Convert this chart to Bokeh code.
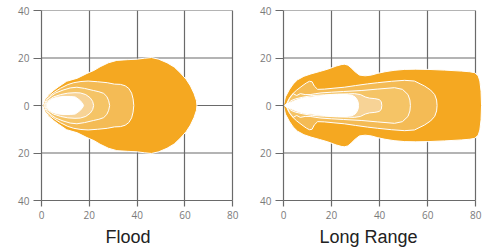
from bokeh.plotting import figure
from bokeh.layouts import row
from bokeh.models import Title, Range1d, FixedTicker
from bokeh.embed import file_html
from bokeh.resources import INLINE

# ---------------- data: beam contour profiles (distance m, half-width m) -------------
x_ticks = [0, 20, 40, 60, 80]
y_ticks = [-40, -20, 0, 20, 40]
y_tick_labels = {-40: "40", -20: "20", 0: "0", 20: "20", 40: "40"}

level_colors = ["#F5A821", "#F4BB55", "#F5C466", "#F7D396", "#FFFFFF"]

flood_L1_x = [0.5, 1.5, 3, 5, 7, 10.5, 15, 19, 22, 24.5, 28, 31.5, 36, 40, 43, 46, 49, 52.5, 55.5, 58, 60.5, 62.3, 63.8, 64.8, 65]
flood_L1_y = [0, 2.5, 4.5, 6.3, 7.8, 10.2, 11.5, 13.5, 14.8, 16.3, 18, 19, 19.3, 19.5, 19.9, 20.2, 19.5, 18, 16.2, 13.8, 11, 8.2, 5, 2, 0]
flood_L2_x = [1.0, 2, 3.5, 5.5, 8, 11, 13.5, 16.5, 19.5, 23.5, 27.5, 30.5, 33, 35, 36.5, 37.7, 38.3, 38.6]
flood_L2_y = [0, 2.4, 4.2, 5.7, 7.3, 8.8, 9.6, 10.1, 10.3, 10.0, 9.6, 9.0, 8.9, 8.3, 7.2, 5.2, 2.8, 0]
flood_L3_x = [1.3, 2.5, 4, 6, 9, 12, 14.8, 18, 21.8, 24, 26, 27.3, 28.1, 28.5]
flood_L3_y = [0, 2.4, 4.0, 5.3, 6.5, 7.4, 7.7, 7.2, 6.3, 5.8, 5.1, 3.8, 2.0, 0]
flood_L4_x = [1.6, 3, 5, 8, 11, 14, 16.2, 18.5, 20.4, 21.4, 21.8]
flood_L4_y = [0, 2.2, 3.6, 4.6, 5.2, 5.4, 5.3, 4.6, 3.2, 1.7, 0]
flood_L5_x = [2.0, 3, 4.5, 6.5, 9, 12, 14.1, 15.8, 17.0, 17.6]
flood_L5_y = [0, 1.8, 2.8, 3.5, 3.8, 3.8, 3.6, 2.4, 1.2, 0]

long_L1_x = [0, 0.8, 2.4, 4, 5.8, 8.5, 11.4, 15, 18.4, 21.9, 24, 25.3, 26.8, 28.1, 29.8, 31.6, 34, 36.5, 39, 42.2, 46, 50.4, 55, 60.1, 67, 74, 77.5, 79.6, 81, 81.7, 82.2, 82.4]
long_L1_y = [0, 3.6, 6.6, 9.0, 10.8, 12.3, 13.3, 14.3, 15.3, 16.6, 17.2, 17.4, 17.0, 15.9, 14.2, 12.8, 12.5, 12.8, 13.5, 14.2, 14.8, 15.2, 15.3, 15.2, 14.9, 14.5, 14.2, 13.8, 12.5, 10.3, 6, 0]
long_L2_x = [1.0, 2.1, 3.5, 5.5, 7.7, 9.5, 10.8, 11.9, 12.8, 14.2, 17, 21, 25.3, 30, 35, 39.2, 45, 50.4, 54.5, 58.7, 61.2, 62.9, 63.7, 63.9]
long_L2_y = [0, 2.5, 4.6, 6.5, 8.2, 9.5, 10.2, 10.0, 8.2, 6.8, 6.9, 7.3, 7.7, 8.4, 9.1, 9.6, 10.2, 10.6, 10.3, 8.2, 6.5, 4.6, 2.3, 0]
long_L3_x = [1.3, 2.5, 4.0, 5.5, 7.0, 9.0, 11.1, 13.5, 15.6, 20, 25, 32.3, 39, 46.2, 49.5, 51.8, 52.6, 52.8]
long_L3_y = [0, 3.0, 5.0, 4.2, 5.0, 4.6, 4.6, 5.0, 5.3, 5.6, 5.9, 6.3, 6.9, 7.5, 6.8, 4.6, 2.3, 0]
long_L4_x = [1.5, 3, 5, 8, 12, 17, 22.5, 27, 29.5, 32, 34, 35.8, 38, 39.9, 40.7, 40.9]
long_L4_y = [0, 2.0, 2.8, 3.5, 4.2, 4.5, 4.8, 4.9, 5.0, 4.6, 3.6, 3.1, 2.9, 2.5, 1.5, 0]
long_L5_x = [0.3, 1.5, 3, 4.2, 6, 8.3, 11.4, 15, 19, 22.5, 26, 28.5, 29.8, 30.6, 31.1, 31.2]
long_L5_y = [0, 0.8, 1.3, 1.8, 2.5, 3.2, 3.5, 4.0, 4.4, 4.6, 4.6, 4.3, 3.6, 2.5, 1.3, 0]

flood_levels = [(flood_L1_x, flood_L1_y), (flood_L2_x, flood_L2_y), (flood_L3_x, flood_L3_y),
                (flood_L4_x, flood_L4_y), (flood_L5_x, flood_L5_y)]
long_levels = [(long_L1_x, long_L1_y), (long_L2_x, long_L2_y), (long_L3_x, long_L3_y),
               (long_L4_x, long_L4_y), (long_L5_x, long_L5_y)]

GRID = "#6a6a6a"
X_VIEW_END = 82.8  # shapes may spill a little past the 80 m grid line


def make(name, levels, border_left, border_right, width, title_offset):
    p = figure(width=width, height=250, x_range=Range1d(0, X_VIEW_END), y_range=Range1d(-40, 40),
               output_backend="svg", toolbar_location=None,
               min_border_left=border_left, min_border_right=border_right,
               min_border_top=10, min_border_bottom=0)
    p.background_fill_color = "white"
    p.border_fill_color = "white"
    p.outline_line_color = None
    p.ygrid.visible = False

    # horizontal grid lines limited to the 0..80 m axis extent
    p.segment(x0=[x_ticks[0]] * len(y_ticks), x1=[x_ticks[-1]] * len(y_ticks),
              y0=y_ticks, y1=y_ticks, line_color=GRID, line_width=1.2, level="underlay")

    for (xs, ys), c in zip(levels, level_colors):
        px = list(xs) + list(reversed(xs))
        py = list(ys) + [-v for v in reversed(ys)]
        p.patch(px, py, fill_color=c, line_color="white", line_width=1)

    p.xaxis.ticker = FixedTicker(ticks=x_ticks)
    p.yaxis.ticker = FixedTicker(ticks=y_ticks)
    p.xgrid.ticker = FixedTicker(ticks=x_ticks)
    p.xaxis.bounds = (x_ticks[0], x_ticks[-1])
    p.yaxis.major_label_overrides = y_tick_labels
    p.xgrid.grid_line_color = GRID
    p.xgrid.grid_line_width = 1.2
    p.xgrid.grid_line_alpha = 1
    for ax in (p.xaxis, p.yaxis):
        ax.axis_line_color = GRID
        ax.axis_line_width = 1.2
        ax.major_tick_line_color = GRID
        ax.major_tick_line_width = 1.2
        ax.minor_tick_line_color = None
        ax.major_tick_in = 0
        ax.major_label_text_font = "Open Sans"
        ax.major_label_text_font_size = "10px"
        ax.major_label_text_color = "#7a7a7a"
    p.yaxis.major_tick_out = 8
    p.yaxis.major_label_standoff = 4
    p.xaxis.major_tick_out = 6
    p.xaxis.major_label_standoff = 4
    p.add_layout(Title(text=name, align="left", text_font="Liberation Sans",
                       text_font_size="18px", text_font_style="normal",
                       text_color="#222222", offset=title_offset, standoff=7), "below")
    return p


p1 = make("Flood", flood_levels, 41, 5, 244, 64)
p2 = make("Long Range", long_levels, 39, 2, 240, 36)
layout = row(p1, p2)

open("out.html", "w").write(file_html(layout, INLINE))
